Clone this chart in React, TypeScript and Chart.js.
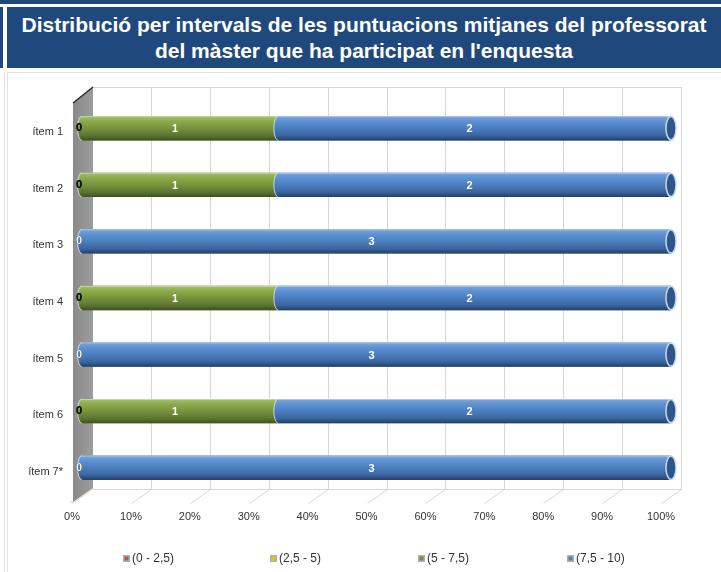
import React, { useEffect, useRef } from "react";
import { Chart, registerables } from "chart.js";

Chart.register(...registerables);

const TITLE_LINE_1 = "Distribució per intervals de les puntuacions mitjanes del professorat";
const TITLE_LINE_2 = "del màster que ha participat en l'enquesta";

const ITEMS = ["ítem 1", "ítem 2", "ítem 3", "ítem 4", "ítem 5", "ítem 6", "ítem 7*"];
const SERIES = ["(0 - 2,5)", "(2,5 - 5)", "(5 - 7,5)", "(7,5 - 10)"];
const S1_0_25 = [0, 0, 0, 0, 0, 0, 0];
const S2_25_5 = [0, 0, 0, 0, 0, 0, 0];
const S3_5_75 = [1, 1, 0, 1, 0, 1, 0];
const S4_75_10 = [2, 2, 3, 2, 3, 2, 3];
const COUNTS = [S1_0_25, S2_25_5, S3_5_75, S4_75_10];
const X_TICKS = [0, 10, 20, 30, 40, 50, 60, 70, 80, 90, 100];

const BLUE_DARK = "#1f497d";
const COLORS = ["#c0504d", "#f2c200", "#77933c", "#4f81bd"];
const SHADES = [
  ["#d9807d", "#c8605d", "#b04a47", "#8c3533", "#5e2322"],
  ["#ffd95a", "#f7c928", "#e8b800", "#b38d00", "#7a6000"],
  ["#a4c463", "#8bab4b", "#77933c", "#5b7430", "#3e511f"],
  ["#78a6e0", "#5e91d2", "#4b7ebf", "#3a659f", "#243e62"],
];
const CAPS = ["#7a2d2b", "#9a7a00", "#4a5f24", "#2f568a"];

const rows = ITEMS.map((_, j) => COUNTS.reduce((s, arr) => s + arr[j], 0));
const pct = (arr: number[]) => arr.map((v, j) => (rows[j] ? (v / rows[j]) * 100 : 0));

const FONT = '"Liberation Sans", Arial, Helvetica, sans-serif';

const threeD = {
  id: "threeD",
  beforeDatasetsDraw(chart: any) {
    const { ctx, chartArea: a, scales } = chart;
    const x = scales.x;
    const top = Math.round(a.top - 13) + 0.5;
    const backBottom = Math.round(a.bottom - 7) + 0.5;
    const frontBottom = Math.round(a.bottom + 7) + 0.5;
    ctx.save();
    ctx.strokeStyle = "#d6d6d6";
    ctx.lineWidth = 1;
    for (const t of X_TICKS) {
      const px = x.getPixelForValue(t);
      const bx = Math.round(px + 10) + 0.5;
      ctx.beginPath();
      ctx.moveTo(bx, top);
      ctx.lineTo(bx, backBottom);
      ctx.lineTo(Math.round(px - 10) + 0.5, frontBottom);
      ctx.stroke();
    }
    const x0 = x.getPixelForValue(0);
    const x1 = x.getPixelForValue(100);
    ctx.beginPath();
    ctx.moveTo(Math.round(x0 + 10), top);
    ctx.lineTo(Math.round(x1 + 10) + 1, top);
    ctx.moveTo(Math.round(x0 + 10), backBottom);
    ctx.lineTo(Math.round(x1 + 10) + 1, backBottom);
    ctx.stroke();
    // left wall
    const fx = x0 - 9;
    const bx = x0 + 11;
    const fTop = a.top + 3;
    const fBot = a.bottom + 6;
    const bTop = a.top - 13;
    const bBot = a.bottom - 8;
    const g = ctx.createLinearGradient(fx, 0, bx, 0);
    g.addColorStop(0, "#8a8a8a");
    g.addColorStop(1, "#9c9c9c");
    ctx.fillStyle = g;
    ctx.beginPath();
    ctx.moveTo(fx, fTop);
    ctx.lineTo(bx, bTop);
    ctx.lineTo(bx, bBot);
    ctx.lineTo(fx, fBot);
    ctx.closePath();
    ctx.fill();
    ctx.strokeStyle = "#2a2a2a";
    ctx.lineWidth = 1.5;
    ctx.beginPath();
    ctx.moveTo(fx, fTop);
    ctx.lineTo(bx, bTop);
    ctx.stroke();
    ctx.strokeStyle = "#cfcfcf";
    ctx.lineWidth = 1;
    ctx.beginPath();
    ctx.moveTo(fx, fBot);
    ctx.lineTo(fx - 3, fBot);
    ctx.stroke();
    ctx.restore();
  },
  afterDatasetsDraw(chart: any) {
    const { ctx, scales } = chart;
    const x0 = scales.x.getPixelForValue(0);
    ctx.save();
    for (let j = 0; j < ITEMS.length; j++) {
      const segs: any[] = [];
      chart.data.datasets.forEach((_: any, i: number) => {
        const el = chart.getDatasetMeta(i).data[j];
        const p = el.getProps(["x", "y", "base", "height"], true);
        segs.push({ i, l: Math.min(p.x, p.base), r: Math.max(p.x, p.base), y: p.y, h: p.height });
      });
      const nz = segs.filter((s) => s.r - s.l > 0.5);
      nz.forEach((s, k) => {
        const top = s.y - s.h / 2;
        const bot = s.y + s.h / 2;
        const rx = 4.5;
        const g = ctx.createLinearGradient(0, top, 0, bot);
        const sh = SHADES[s.i];
        g.addColorStop(0, sh[0]);
        g.addColorStop(0.22, sh[1]);
        g.addColorStop(0.5, sh[2]);
        g.addColorStop(0.8, sh[3]);
        g.addColorStop(1, sh[4]);
        ctx.fillStyle = g;
        ctx.beginPath();
        ctx.moveTo(s.l, top);
        ctx.lineTo(s.r, top);
        ctx.lineTo(s.r, bot);
        ctx.lineTo(s.l, bot);
        ctx.ellipse(s.l, s.y, rx, s.h / 2, 0, Math.PI / 2, Math.PI * 1.5);
        ctx.closePath();
        ctx.fill();
        ctx.strokeStyle = "rgba(225,235,245,0.8)";
        ctx.lineWidth = 1;
        ctx.beginPath();
        ctx.ellipse(s.l, s.y, rx, s.h / 2, 0, Math.PI / 2, Math.PI * 1.5);
        ctx.stroke();
        ctx.strokeStyle = "rgba(220,230,240,0.55)";
        ctx.beginPath();
        ctx.moveTo(s.l, top + 0.5);
        ctx.lineTo(s.r, top + 0.5);
        ctx.stroke();
        if (k === nz.length - 1) {
          ctx.fillStyle = CAPS[s.i];
          ctx.strokeStyle = "#c9d7ea";
          ctx.lineWidth = 1.5;
          ctx.beginPath();
          ctx.ellipse(s.r, s.y, rx + 0.5, s.h / 2 - 0.5, 0, 0, Math.PI * 2);
          ctx.fill();
          ctx.stroke();
        }
      });
      // labels
      ctx.font = "bold 11px " + FONT;
      ctx.textAlign = "center";
      ctx.textBaseline = "middle";
      segs.forEach((s) => {
        const v = COUNTS[s.i][j];
        ctx.fillStyle = s.i < 2 ? "#111" : "#fff";
        if (v === 0) {
          ctx.fillText(String(v), x0 - 3, s.y);
        } else {
          ctx.fillText(String(v), (s.l + s.r) / 2 - 5, s.y + 1);
        }
      });
    }
    ctx.restore();
  },
  afterDraw(chart: any) {
    const { ctx } = chart;
    const boxX = [115, 262, 410, 559];
    const y = 485;
    ctx.save();
    ctx.font = "12px " + FONT;
    ctx.textBaseline = "middle";
    ctx.textAlign = "left";
    chart.data.datasets.forEach((ds: any, i: number) => {
      const bx = boxX[i];
      ctx.fillStyle = "#b0b0b0";
      ctx.fillRect(bx, y - 3, 7, 7);
      ctx.fillStyle = ds.backgroundColor;
      ctx.fillRect(bx + 1.5, y - 1.5, 4, 4);
      ctx.fillStyle = "#333";
      ctx.fillText(ds.label, bx + 9, y + 1);
    });
    ctx.restore();
  },
};

export default function App() {
  const ref = useRef<HTMLCanvasElement | null>(null);
  useEffect(() => {
    if (!ref.current) return;
    const data = [S1_0_25, S2_25_5, S3_5_75, S4_75_10];
    const chart = new Chart(ref.current, {
      type: "bar",
      data: {
        labels: ITEMS,
        datasets: SERIES.map((label, i) => ({
          label,
          data: pct(data[i]),
          backgroundColor: COLORS[i],
          borderWidth: 0,
          barPercentage: 0.43,
          categoryPercentage: 1,
        })),
      },
      options: {
        indexAxis: "y",
        responsive: false,
        animation: false,
        layout: { padding: { left: 0, right: 50, top: 27, bottom: 46 } },
        plugins: { legend: { display: false }, tooltip: { enabled: false } },
        scales: {
          x: {
            stacked: true,
            min: 0,
            max: 100,
            grid: { display: false, drawTicks: false },
            border: { display: false },
            ticks: {
              stepSize: 10,
              padding: 14,
              labelOffset: -10,
              color: "#333",
              font: { size: 11, family: FONT },
              callback: (v: any) => v + "%",
            },
            afterFit: (s: any) => {
              s.height = 30;
            },
          },
          y: {
            stacked: true,
            grid: { display: false, drawTicks: false },
            border: { display: false },
            ticks: {
              padding: 19,
              labelOffset: 4,
              color: "#333",
              font: { size: 11, family: FONT },
            },
            afterFit: (s: any) => {
              s.width = 74;
            },
          },
        },
      },
      plugins: [threeD],
    } as any);
    return () => chart.destroy();
  }, []);

  return (
    <div style={{ position: "relative", width: 721, height: 572, overflow: "hidden", fontFamily: FONT }}>
      <style>{`body{margin:0}`}</style>
      <div style={{ position: "absolute", left: 0, top: 0, width: 721, height: 4, background: BLUE_DARK }} />
      <div style={{ position: "absolute", left: 0, top: 7, width: 3, height: 61, background: BLUE_DARK }} />
      <div
        style={{
          position: "absolute",
          left: 7,
          top: 7,
          width: 714,
          height: 61,
          background: BLUE_DARK,
          color: "#fff",
          fontWeight: "bold",
          fontSize: 21,
          lineHeight: "26px",
          textAlign: "center",
          boxSizing: "border-box",
          paddingTop: 5,
          whiteSpace: "nowrap",
        }}
      >
        <div>{TITLE_LINE_1}</div>
        <div>{TITLE_LINE_2}</div>
      </div>
      <div style={{ position: "absolute", left: 4, top: 72, width: 1, height: 500, background: "#e3e3e3" }} />
      <div
        style={{
          position: "absolute",
          left: 7,
          top: 72,
          width: 720,
          height: 510,
          borderLeft: "1px solid #e0e0e0",
          borderTop: "1px solid #e0e0e0",
        }}
      />
      <canvas ref={ref} width={713} height={499} style={{ position: "absolute", left: 8, top: 73 }} />
    </div>
  );
}
